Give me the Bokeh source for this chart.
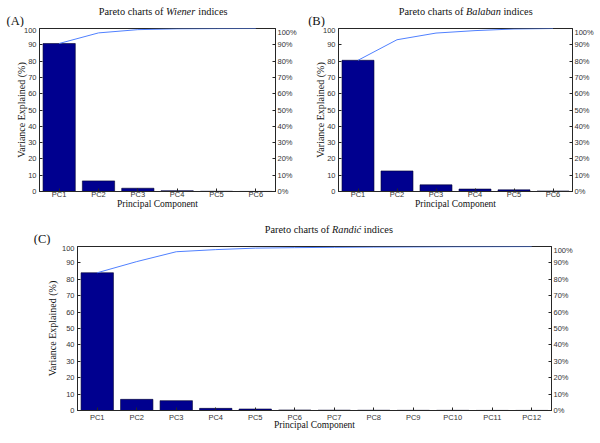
import numpy as np
from bokeh.plotting import figure
from bokeh.layouts import column, row
from bokeh.models import (Range1d, LinearAxis, FixedTicker, PrintfTickFormatter,
                          Label, ColumnDataSource)
from bokeh.embed import file_html
from bokeh.resources import INLINE

# ---------------- data ----------------
pcs_6 = ["PC1", "PC2", "PC3", "PC4", "PC5", "PC6"]
pcs_12 = ["PC1", "PC2", "PC3", "PC4", "PC5", "PC6",
          "PC7", "PC8", "PC9", "PC10", "PC11", "PC12"]
wiener_explained = [90.8, 6.5, 2.0, 0.5, 0.15, 0.05]
balaban_explained = [80.5, 12.6, 4.1, 1.5, 1.0, 0.3]
randic_explained = [84.0, 6.8, 6.0, 1.3, 0.9, 0.3, 0.2, 0.15, 0.1, 0.1, 0.05, 0.05]
y_ticks = [0, 10, 20, 30, 40, 50, 60, 70, 80, 90, 100]

titles = [("Pareto charts of", "Wiener", "indices"),
          ("Pareto charts of", "Balaban", "indices"),
          ("Pareto charts of", "Randić", "indices")]
letters = ["(A)", "(B)", "(C)"]

BAR = "#00008F"
LINE = "#5080FF"
AX = "#262626"
TXT = "#333333"
SERIF = "Liberation Serif"
SANS = "Liberation Sans"
TFS = 10.3  # title font size (px)
# Times-metric widths (em) of the pieces, for placing the mixed-style title
PREFIX_EM = 6.526      # "Pareto charts of "
ITALIC_EM = {"Wiener": 2.888, "Balaban": 3.389, "Randić": 2.833}
SPACE_EM = 0.25


def no_align(fig):
    try:
        fig.frame_align = False
    except Exception:
        pass


def header(width, height, title, letter, tx, ty, lx, ly):
    h = figure(width=width, height=height, output_backend="svg", toolbar_location=None,
               x_range=Range1d(0, width), y_range=Range1d(height, 0),
               min_border=0, x_axis_type=None, y_axis_type=None)
    no_align(h)
    h.grid.visible = False
    h.outline_line_color = None
    x_it = tx + PREFIX_EM * TFS
    x_end = x_it + (ITALIC_EM[title[1]] + SPACE_EM) * TFS
    for txt, x, st in zip(title, (tx, x_it, x_end), ("normal", "italic", "normal")):
        h.add_layout(Label(x=x, y=ty, text=txt, text_font=SERIF,
                           text_font_size=f"{TFS}px", text_font_style=st,
                           text_color="#111111", text_baseline="middle",
                           text_align="left"))
    h.add_layout(Label(x=lx, y=ly, text=letter, text_font=SERIF,
                       text_font_size="12.5px", text_color="#111111",
                       text_baseline="middle", text_align="left"))
    return h


def panel(cats, vals, width, height, bl, br, bt, bb,
          ylab_standoff, xtick_standoff, xlab_standoff):
    n = len(cats)
    xs = list(range(1, n + 1))
    cum = list(np.cumsum(vals))
    p = figure(width=width, height=height, output_backend="svg", toolbar_location=None,
               x_range=Range1d(0.5, n + 0.5), y_range=Range1d(0, 100),
               min_border_left=bl, min_border_right=br, min_border_top=bt,
               min_border_bottom=bb, x_axis_type=None, y_axis_type=None)
    no_align(p)
    p.grid.visible = False
    p.outline_line_color = AX
    p.outline_line_width = 1

    src = ColumnDataSource(dict(x=xs, top=vals, cum=cum))
    p.vbar(x="x", top="top", width=0.82, source=src, fill_color=BAR,
           line_color="#000030", line_width=0.6)
    p.line(x="x", y="cum", source=src, line_color=LINE, line_width=1)

    xa = LinearAxis(ticker=FixedTicker(ticks=xs),
                    major_label_overrides={i + 1: c for i, c in enumerate(cats)},
                    axis_label="Principal Component")
    ya = LinearAxis(ticker=FixedTicker(ticks=y_ticks), axis_label="Variance Explained (%)")
    p.extra_y_ranges = {"pct": Range1d(0, 100)}
    ra = LinearAxis(y_range_name="pct", ticker=FixedTicker(ticks=y_ticks),
                    formatter=PrintfTickFormatter(format="%d%%"))

    for a in (xa, ya, ra):
        a.axis_line_color = AX
        a.major_tick_line_color = AX
        a.major_tick_in = 3
        a.major_tick_out = 0
        a.minor_tick_line_color = None
        a.major_label_text_color = TXT
        a.major_label_text_font = SANS
        a.major_label_text_font_size = "7.5px"
        a.axis_label_text_font = SERIF
        a.axis_label_text_font_style = "normal"
        a.axis_label_text_color = "#111111"
    ya.major_label_standoff = 3
    ra.major_label_standoff = 2
    ya.axis_label_text_font_size = "10px"
    ya.axis_label_standoff = ylab_standoff
    xa.major_label_standoff = xtick_standoff
    xa.axis_label_text_font_size = "9.5px"
    xa.axis_label_standoff = xlab_standoff

    p.add_layout(xa, "below")
    p.add_layout(ya, "left")
    p.add_layout(ra, "right")
    return p


hA = header(300, 27, titles[0], letters[0], 98.3, 10.5, 6, 20.5)
hB = header(300, 27, titles[1], letters[1], 98.3, 10.5, 7.7, 20)
hC = header(600, 23, titles[2], letters[2], 264.3, 7, 33.3, 16)

pA = panel(pcs_6, wiener_explained, 300, 195, 39, 25, 1, 31, -6, -2, -3)
pB = panel(pcs_6, balaban_explained, 300, 195, 38, 28, 1, 31, -6, -2, -3)
pC = panel(pcs_12, randic_explained, 600, 198, 77, 49, 1, 33, 1, 2, -5)

layout = column(row(column(hA, pA), column(hB, pB)), column(hC, pC))
open("out.html", "w").write(file_html(layout, INLINE))
